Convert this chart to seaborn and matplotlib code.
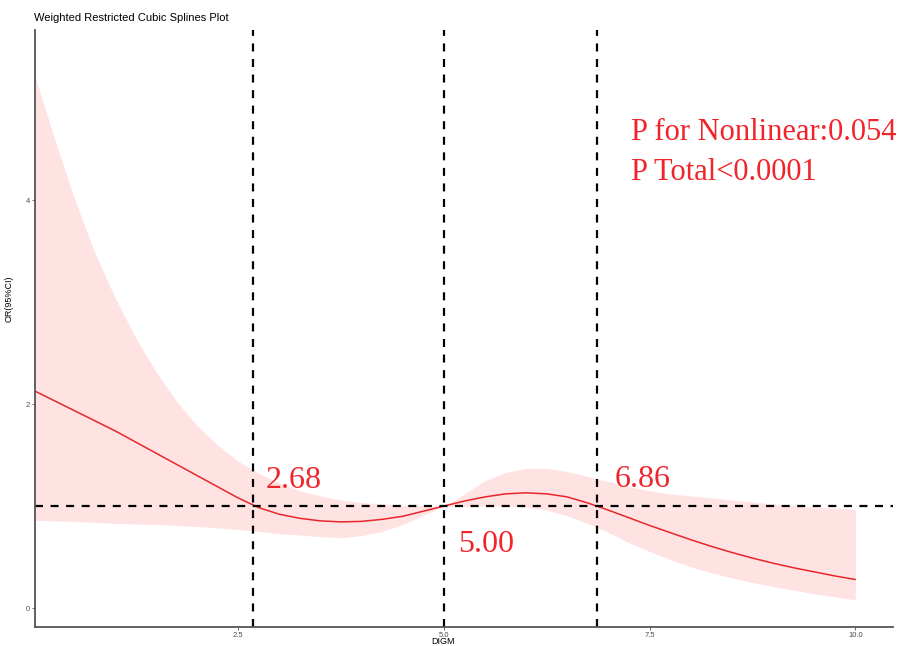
import numpy as np
import pandas as pd
import seaborn as sns
import matplotlib.pyplot as plt

# values
digm = [0.0, 0.25, 0.5, 0.75, 1.0, 1.25, 1.5, 1.75, 2.0, 2.25, 2.5, 2.75,
        3.0, 3.25, 3.5, 3.75, 4.0, 4.25, 4.5, 4.75, 5.0, 5.25, 5.5, 5.75,
        6.0, 6.25, 6.5, 6.75, 7.0, 7.25, 7.5, 7.75, 8.0, 8.25, 8.5, 8.75,
        9.0, 9.25, 9.5, 9.75, 10.0]
odds_ratio = [2.14, 2.04, 1.94, 1.84, 1.74, 1.63, 1.52, 1.41, 1.30, 1.19, 1.08, 0.985,
              0.92, 0.88, 0.855, 0.845, 0.85, 0.87, 0.90, 0.95, 1.00, 1.05, 1.09, 1.12,
              1.13, 1.12, 1.09, 1.03, 0.96, 0.885, 0.81, 0.74, 0.67, 0.605, 0.545, 0.49,
              0.44, 0.395, 0.355, 0.315, 0.28]
ci_upper = [5.30, 4.65, 4.04, 3.50, 3.05, 2.66, 2.32, 2.03, 1.79, 1.60, 1.44, 1.32,
            1.23, 1.15, 1.10, 1.06, 1.035, 1.02, 1.01, 1.005, 1.00, 1.12, 1.25, 1.33,
            1.37, 1.37, 1.34, 1.29, 1.24, 1.19, 1.15, 1.12, 1.10, 1.08, 1.06, 1.04,
            1.02, 1.01, 0.99, 0.98, 0.97]
ci_lower = [0.86, 0.855, 0.85, 0.84, 0.83, 0.825, 0.82, 0.81, 0.80, 0.785, 0.77, 0.75,
            0.73, 0.715, 0.70, 0.69, 0.71, 0.75, 0.82, 0.91, 1.00, 0.995, 1.00, 1.00,
            0.99, 0.96, 0.905, 0.83, 0.74, 0.64, 0.555, 0.475, 0.405, 0.345, 0.295, 0.25,
            0.21, 0.175, 0.14, 0.11, 0.08]

knots = [2.68, 5.00, 6.86]
knot_label_pos = [(2.83, 1.18), (5.17, 0.55), (7.08, 1.19)]
p_texts = ["P for Nonlinear:0.054", "P Total<0.0001"]

df = pd.DataFrame({"DIGM": digm, "OR": odds_ratio, "lower": ci_lower, "upper": ci_upper})

sns.set_theme(style="white")
plt.rcParams["font.family"] = ["Liberation Sans", "DejaVu Sans"]

fig = plt.figure(figsize=(9.18, 6.46), dpi=100)
ax = fig.add_axes([0.038, 0.0294, 0.935, 0.9242])

ax.fill_between(df["DIGM"], df["lower"], df["upper"], color="red", alpha=0.11, linewidth=0)
sns.lineplot(data=df, x="DIGM", y="OR", color="#E8262A", linewidth=1.1, ax=ax)

dash = dict(color="black", linewidth=1.6, linestyle=(0, (3.6, 3.4)))
ax.axhline(1.0, **dash)
for k in knots:
    ax.axvline(k, **dash)

red_serif = dict(color="#F0252B", family=["Liberation Serif", "DejaVu Serif"])
for k, (tx, ty) in zip(knots, knot_label_pos):
    ax.text(tx, ty, f"{k:.2f}", fontsize=23, ha="left", va="baseline", **red_serif)
ax.text(7.27, 4.59, p_texts[0], fontsize=22, ha="left", va="baseline", **red_serif)
ax.text(7.27, 4.20, p_texts[1], fontsize=22, ha="left", va="baseline", **red_serif)

ax.set_xlim(0.03, 10.46)
ax.set_ylim(-0.186, 5.67)
ax.set_xticks([2.5, 5.0, 7.5, 10.0])
ax.set_xticklabels(["2.5", "5.0", "7.5", "10.0"])
ax.set_yticks([0, 2, 4])

ax.tick_params(axis="both", labelsize=5.5, colors="#4D4D4D", length=2.5, width=0.6,
               left=True, bottom=True, pad=1)
for side in ["top", "right"]:
    ax.spines[side].set_visible(False)
for side in ["left", "bottom"]:
    ax.spines[side].set_color("#555555")
    ax.spines[side].set_linewidth(1.3)

ax.set_xlabel("DIGM", fontsize=6.5, color="black")
ax.set_ylabel("OR(95%CI)", fontsize=6.5, color="black")
ax.xaxis.set_label_coords(0.476, -0.0175)
ax.xaxis.label.set_va("top")
ax.yaxis.set_label_coords(-0.025, 0.55)

fig.text(34 / 918, 0.972, "Weighted Restricted Cubic Splines Plot", fontsize=8,
         ha="left", va="center", color="black")

fig.savefig("out.png", dpi=100)
